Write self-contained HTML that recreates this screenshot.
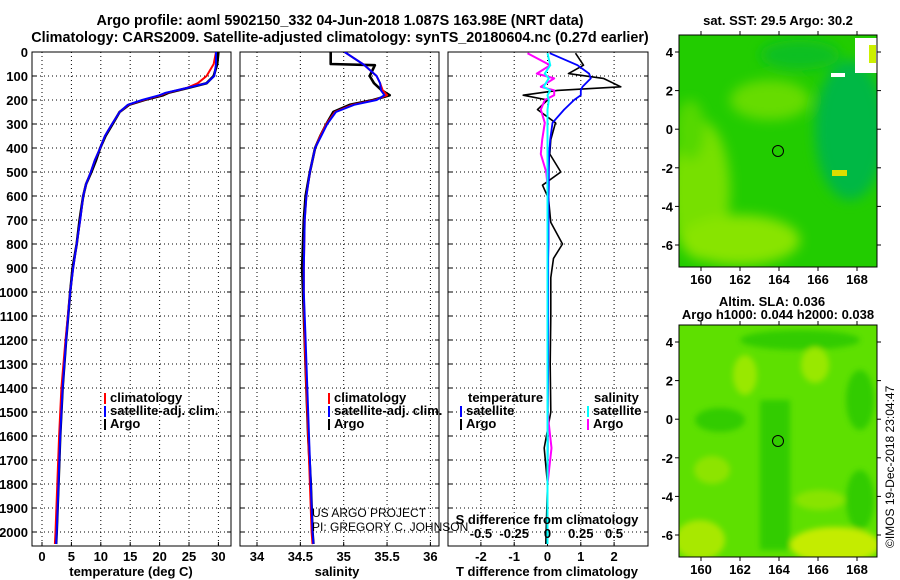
<!DOCTYPE html>
<html><head><meta charset="utf-8">
<style>
body{margin:0;background:#fff;}
svg{display:block;font-family:"Liberation Sans",Arial,sans-serif;}
.t{font-weight:bold;font-size:14.4px;fill:#000;}
.k{font-weight:bold;font-size:13px;fill:#000;}
</style></head>
<body>
<svg id="fig" width="900" height="580" viewBox="0 0 900 580">
<defs>
<filter id="blur4" x="-50%" y="-50%" width="200%" height="200%"><feGaussianBlur stdDeviation="6"/></filter>
<filter id="blur2" x="-50%" y="-50%" width="200%" height="200%"><feGaussianBlur stdDeviation="3"/></filter>
<clipPath id="cm1"><rect x="679" y="35" width="198" height="232"/></clipPath>
<clipPath id="cm2"><rect x="679" y="325" width="198" height="232"/></clipPath>
<clipPath id="cp1"><rect x="32" y="52" width="199" height="494"/></clipPath>
<clipPath id="cp2"><rect x="240" y="52" width="199" height="494"/></clipPath>
<clipPath id="cp3"><rect x="448" y="52" width="200" height="494"/></clipPath>
</defs>
<text class="t" x="340" y="25" text-anchor="middle">Argo profile: aoml 5902150_332 04-Jun-2018 1.087S 163.98E (NRT data)</text>
<text class="t" x="340" y="42" text-anchor="middle">Climatology: CARS2009. Satellite-adjusted climatology: synTS_20180604.nc (0.27d earlier)</text>
<g id="g1"></g>
<g id="g2"></g>
<g id="g3"></g>
<g id="maps">
 <text class="k" x="778" y="25" text-anchor="middle">sat. SST: 29.5 Argo: 30.2</text>
 <g clip-path="url(#cm1)">
  <rect x="679" y="35" width="198" height="232" fill="#22cc00"/>
  <g filter="url(#blur4)">
   <ellipse cx="700" cy="190" rx="30" ry="70" fill="#77e000"/>
   <ellipse cx="740" cy="240" rx="60" ry="25" fill="#88e400"/>
   <ellipse cx="770" cy="100" rx="40" ry="20" fill="#66dc00"/>
   <ellipse cx="850" cy="130" rx="35" ry="70" fill="#00b844"/>
   <ellipse cx="800" cy="55" rx="40" ry="15" fill="#11c020"/>
   <ellipse cx="690" cy="130" rx="15" ry="30" fill="#55d800"/>
  </g>
  <rect x="855" y="38" width="22" height="35" fill="#fff"/>
  <rect x="869" y="45" width="7" height="18" fill="#ccf000"/>
  <rect x="831" y="73" width="14" height="4" fill="#fff"/>
  <rect x="832" y="170" width="15" height="6" fill="#dddd00"/>
 </g>
 <rect x="679" y="35" width="198" height="232" fill="none" stroke="#000"/>
 <circle cx="778" cy="151" r="5.5" fill="none" stroke="#000"/>
 <text class="k" x="772" y="306" text-anchor="middle">Altim. SLA: 0.036</text>
 <text class="k" x="778" y="319" text-anchor="middle">Argo h1000: 0.044 h2000: 0.038</text>
 <g clip-path="url(#cm2)">
  <rect x="679" y="325" width="198" height="232" fill="#5ee000"/>
  <g filter="url(#blur2)">
   <rect x="760" y="400" width="30" height="150" fill="#33cc00"/>
   <ellipse cx="720" cy="420" rx="25" ry="12" fill="#33cc00"/>
   <ellipse cx="860" cy="400" rx="14" ry="30" fill="#33cc00"/>
   <ellipse cx="860" cy="500" rx="14" ry="30" fill="#33cc00"/>
   <ellipse cx="800" cy="340" rx="60" ry="10" fill="#33cc00"/>
   <ellipse cx="745" cy="375" rx="12" ry="20" fill="#99e800"/>
   <ellipse cx="815" cy="365" rx="14" ry="18" fill="#99e800"/>
   <ellipse cx="820" cy="500" rx="25" ry="10" fill="#88e400"/>
   <ellipse cx="835" cy="545" rx="45" ry="18" fill="#c4ec00"/>
   <ellipse cx="700" cy="540" rx="25" ry="20" fill="#a8e800"/>
   <ellipse cx="712" cy="470" rx="18" ry="14" fill="#8de400"/>
  </g>
 </g>
 <rect x="679" y="325" width="198" height="232" fill="none" stroke="#000"/>
 <circle cx="778" cy="441" r="5.5" fill="none" stroke="#000"/>
 <text x="894" y="548" transform="rotate(-90 894 548)" font-size="12">©IMOS 19-Dec-2018 23:04:47</text>
</g>
</svg>
<script>
// ---- data ----
const tDepth = [0,50,100,130,150,170,180,200,220,250,300,350,400,450,500,550,600,700,800,900,1000,1200,1400,1600,1800,2000,2050];
const tArgo  = [30.0,29.8,29.2,28.0,24.8,21.5,20.6,17.4,14.8,13.2,12.0,10.8,9.9,9.2,8.4,7.5,7.0,6.4,5.9,5.2,4.8,4.1,3.5,3.1,2.8,2.5,2.4];
const tClim  = [29.6,29.2,28.0,26.5,24.6,21.2,20.2,17.2,14.7,13.2,11.9,10.7,9.9,9.0,8.3,7.5,7.0,6.5,5.9,5.3,4.8,4.0,3.3,2.9,2.6,2.3,2.2];
const tSat   = [29.6,29.6,29.3,28.0,24.6,21.0,20.0,17.0,14.6,13.2,11.9,10.7,9.9,9.0,8.3,7.5,7.0,6.5,5.9,5.3,4.8,4.1,3.5,3.1,2.8,2.5,2.4];
const sDepth = [0,50,55,100,130,160,180,200,220,250,300,350,400,500,600,700,900,1000,1200,1400,1600,1800,2000,2050];
const sArgo  = [34.85,34.85,35.36,35.3,35.35,35.44,35.53,35.34,35.07,34.88,34.8,34.73,34.67,34.61,34.56,34.54,34.52,34.53,34.55,34.57,34.59,34.62,34.64,34.65];
const sClim  = [35.01,35.22,35.24,35.38,35.42,35.45,35.5,35.36,35.1,34.9,34.8,34.73,34.67,34.61,34.57,34.55,34.54,34.54,34.55,34.57,34.59,34.61,34.63,34.64];
const sSat   = [35.01,35.22,35.24,35.38,35.42,35.43,35.47,35.38,35.12,34.91,34.81,34.74,34.67,34.61,34.57,34.55,34.54,34.54,34.56,34.58,34.6,34.62,34.64,34.65];
const dDepth = [5,55,90,110,145,160,180,200,240,295,365,425,500,555,610,710,800,860,940,1100,1300,1500,1650,1800,2050];
const dTArgo = [0.84,1.08,0.63,1.68,2.2,0.3,-0.73,0.0,-0.3,0.24,0.1,0.07,0.4,-0.15,0.03,0.1,0.45,0.18,0.1,0.1,0.08,0.1,-0.1,0.0,-0.05];
const dTSat  = [0.07,0.9,1.25,1.3,1.05,1.0,1.0,0.8,0.5,0.15,0.08,0.05,0.04,0.04,0.03,0.03,0.03,0.02,0.02,0.02,0.02,0.01,0.01,0.0,0.0];
const dSArgo = [-0.15,0.02,-0.08,0.05,-0.05,0.05,0.05,-0.02,-0.05,-0.02,-0.04,-0.05,-0.01,0.0,0.0,0.0,0.0,0.0,0.0,0.0,0.0,0.0,0.03,0.0,0.0];
const dSSat  = [0.0,0.02,-0.02,0.01,-0.03,0.02,0.0,0.01,0.0,0.0,0.0,0.0,0.0,0.0,0.0,0.0,0.0,0.0,0.0,0.0,0.0,0.0,0.0,0.0,0.0];
const depthTicks = [0,100,200,300,400,500,600,700,800,900,1000,1100,1200,1300,1400,1500,1600,1700,1800,1900,2000];
const tTicks = [0,5,10,15,20,25,30];
const sTicks = [34,34.5,35,35.5,36];
const sTickLabels = ["34","34.5","35","35.5","36"];
const dtTicks = [-2,-1,0,1,2];
const dsTicks = [-0.5,-0.25,0,0.25,0.5];
const dsTickLabels = ["-0.5","-0.25","0","0.25","0.5"];

// ---- axes ----
const NS='http://www.w3.org/2000/svg';
const Y = d => 52 + d*0.24;
const XT = t => 42 + t*5.88;
const XS = s => 257 + (s-34)*86.7;
const XDT = v => 547.5 + v*33.3;
const XDS = v => 547.5 + v*133.2;
const TOP=52, BOT=546;
function el(parent, tag, attrs, text){
  const e=document.createElementNS(NS,tag);
  for(const k in attrs) e.setAttribute(k,attrs[k]);
  if(text!==undefined) e.textContent=text;
  parent.appendChild(e); return e;
}
function frame(g, x0, x1, vticks, vf){
  for(const d of depthTicks){
    const l=el(g,'line',{x1:x0,x2:x1,y1:Y(d),y2:Y(d),stroke:'#000','stroke-dasharray':'1,3'});
    
    
    el(g,'line',{x1:x0,x2:x0+4,y1:Y(d),y2:Y(d),stroke:'#000'});
    el(g,'line',{x1:x1-4,x2:x1,y1:Y(d),y2:Y(d),stroke:'#000'});
  }
  for(const v of vticks){
    const l=el(g,'line',{x1:vf(v),x2:vf(v),y1:TOP,y2:BOT,stroke:'#000','stroke-dasharray':'1,3'});
    
    
    el(g,'line',{x1:vf(v),x2:vf(v),y1:BOT-4,y2:BOT,stroke:'#000'});
  }
  const r=el(g,'rect',{x:x0,y:TOP,width:x1-x0,height:BOT-TOP,fill:'none',stroke:'#000'});
  
  
}
function line(g, clip, xs, ds, f, color, w, name){
  const pts=xs.map((v,i)=>f(v).toFixed(1)+','+Y(ds[i]).toFixed(1)).join(' ');
  const p=el(g,'polyline',{points:pts,fill:'none',stroke:color,'stroke-width':w,'clip-path':clip,'stroke-linejoin':'round'});
  
  
}
function legend(g, x, y, items){
  items.forEach((it,i)=>{
    el(g,'rect',{x:x,y:y+i*13-9,width:2,height:11,fill:it[1]});
    const t=el(g,'text',{x:x+6,y:y+i*13,class:'k'},it[0]);
    
    
  });
}
// panel 1
const g1=document.getElementById('g1');
frame(g1,32,231,tTicks,XT);
depthTicks.forEach(d=>{
  const t=el(g1,'text',{x:28,y:Y(d)+5,'text-anchor':'end',class:'k'},String(d));
  
  
});
tTicks.forEach(v=>{
  const t=el(g1,'text',{x:XT(v),y:561,'text-anchor':'middle',class:'k'},String(v));
  
  
});
const xt1=el(g1,'text',{x:131,y:576,'text-anchor':'middle',class:'k'},'temperature (deg C)');


line(g1,'url(#cp1)',tArgo,tDepth,XT,'#000',2.6,'temperature-argo-line');
line(g1,'url(#cp1)',tClim,tDepth,XT,'#f00',2,'temperature-climatology-line');
line(g1,'url(#cp1)',tSat,tDepth,XT,'#00f',2,'temperature-satellite-line');
legend(g1,104,402,[['climatology','#f00'],['satellite-adj. clim.','#00f'],['Argo','#000']]);
// panel 2
const g2=document.getElementById('g2');
frame(g2,240,439,sTicks,XS);
sTicks.forEach((v,i)=>{
  const t=el(g2,'text',{x:XS(v),y:561,'text-anchor':'middle',class:'k'},sTickLabels[i]);
  
  
});
const xt2=el(g2,'text',{x:337,y:576,'text-anchor':'middle',class:'k'},'salinity');


line(g2,'url(#cp2)',sArgo,sDepth,XS,'#000',2.6,'salinity-argo-line');
line(g2,'url(#cp2)',sClim,sDepth,XS,'#f00',2,'salinity-climatology-line');
line(g2,'url(#cp2)',sSat,sDepth,XS,'#00f',2,'salinity-satellite-line');
legend(g2,328,402,[['climatology','#f00'],['satellite-adj. clim.','#00f'],['Argo','#000']]);
const c1=el(g2,'text',{x:312,y:517,'font-size':12},'US ARGO PROJECT');


const c2=el(g2,'text',{x:312,y:531,'font-size':12},'PI: GREGORY C. JOHNSON');


// panel 3
const g3=document.getElementById('g3');
frame(g3,448,648,dtTicks,XDT);
line(g3,'url(#cp3)',dTArgo,dDepth,XDT,'#000',1.6,'temp-diff-argo-line');
line(g3,'url(#cp3)',dTSat,dDepth,XDT,'#00f',1.8,'temp-diff-satellite-line');
line(g3,'url(#cp3)',dSArgo,dDepth,XDS,'#f0f',2,'sal-diff-argo-line');
line(g3,'url(#cp3)',dSSat,dDepth,XDS,'#0ff',2,'sal-diff-satellite-line');
dtTicks.forEach(v=>{
  const t=el(g3,'text',{x:XDT(v),y:561,'text-anchor':'middle',class:'k'},String(v));
  
  
});
dsTicks.forEach((v,i)=>{
  const t=el(g3,'text',{x:XDS(v),y:538,'text-anchor':'middle',class:'k'},dsTickLabels[i]);
  
  
});
const xt3=el(g3,'text',{x:547,y:524,'text-anchor':'middle',class:'k'},'S difference from climatology');


const xt4=el(g3,'text',{x:547,y:576,'text-anchor':'middle',class:'k'},'T difference from climatology');


const lt=el(g3,'text',{x:468,y:402,class:'k'},'temperature');


const ls=el(g3,'text',{x:594,y:402,class:'k'},'salinity');


legend(g3,460,415,[['satellite','#00f'],['Argo','#000']]);
legend(g3,587,415,[['satellite','#0ff'],['Argo','#f0f']]);
// map axes
const maps=document.getElementById('maps');
const LX = lon => 701 + (lon-160)*19.5;
const lonTicks=[160,162,164,166,168];
const latTicks=[4,2,0,-2,-4,-6];
[[35,267],[325,557]].forEach(([top,bot])=>{
  const LY = lat => top + 17 + (4-lat)*19.3;
  lonTicks.forEach(l=>{
    el(maps,'line',{x1:LX(l),x2:LX(l),y1:bot,y2:bot+4,stroke:'#000'});
    el(maps,'line',{x1:LX(l),x2:LX(l),y1:top-4,y2:top,stroke:'#000'});
    const t=el(maps,'text',{x:LX(l),y:bot+17,'text-anchor':'middle',class:'k'},String(l));
    
    
  });
  latTicks.forEach(l=>{
    el(maps,'line',{x1:675,x2:679,y1:LY(l),y2:LY(l),stroke:'#000'});
    el(maps,'line',{x1:877,x2:881,y1:LY(l),y2:LY(l),stroke:'#000'});
    const t=el(maps,'text',{x:673,y:LY(l)+5,'text-anchor':'end',class:'k'},String(l));
    
    
  });
});
</script>
</body></html>
